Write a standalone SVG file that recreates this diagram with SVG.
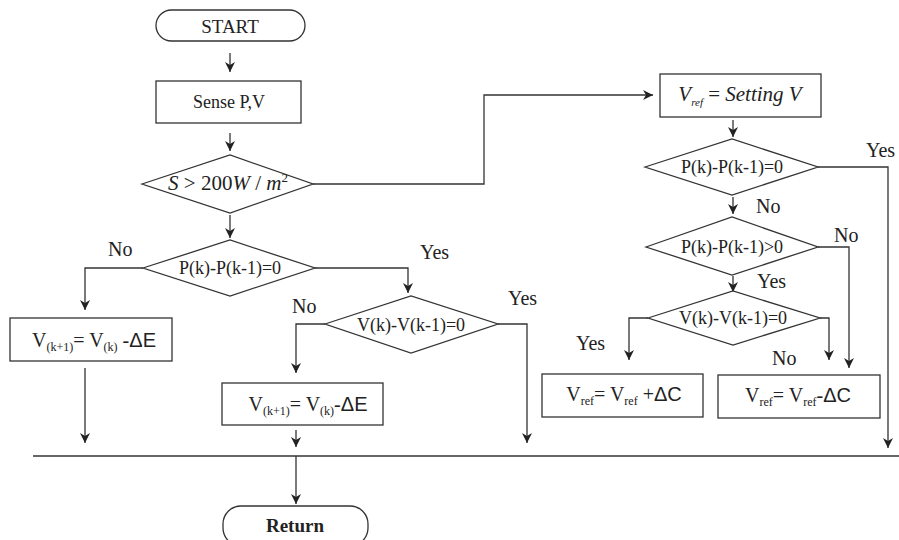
<svg xmlns="http://www.w3.org/2000/svg" width="899" height="540" viewBox="0 0 899 540">
<defs>
<marker id="arr" markerUnits="userSpaceOnUse" markerWidth="12" markerHeight="12" refX="10" refY="5" orient="auto">
<path d="M0,0 L10,5 L0,10 L3,5 Z" fill="#222"/>
</marker>
<style>
.n{fill:#fff;stroke:#333;stroke-width:1.3}
.c{fill:none;stroke:#333;stroke-width:1.3}
.a{marker-end:url(#arr)}
text{font-family:"Liberation Serif","Times New Roman",serif;fill:#222}
.t{font-size:18px;text-anchor:middle}
.b{font-size:19px;text-anchor:middle}
.l{font-size:20px}
.s{font-size:12px}
.sf{font-family:"Liberation Sans",Arial,sans-serif}
.i{font-style:italic}
</style>
</defs>
<rect width="899" height="540" fill="#fff"/>
<g id="connectors">
<line class="c a" x1="230" y1="53" x2="230" y2="72"/>
<line class="c a" x1="230" y1="133" x2="230" y2="151"/>
<line class="c a" x1="230" y1="215" x2="230" y2="238"/>
<polyline class="c a" points="313,184 484,184 484,95 653,95"/>
<polyline class="c a" points="143,268 85,268 85,310"/>
<polyline class="c a" points="315,268 408,268 408,293"/>
<line class="c a" x1="85" y1="368" x2="85" y2="443"/>
<polyline class="c a" points="325,324 296,324 296,373"/>
<polyline class="c a" points="498,324 527,324 527,443"/>
<line class="c a" x1="296" y1="430" x2="296" y2="447"/>
<line class="c a" x1="733" y1="120" x2="733" y2="137"/>
<polyline class="c a" points="818,167 888,167 888,448"/>
<line class="c a" x1="733" y1="197" x2="733" y2="214"/>
<polyline class="c a" points="818,247 849,247 849,368"/>
<line class="c a" x1="733" y1="276" x2="733" y2="292"/>
<polyline class="c a" points="648,318 629,318 629,360"/>
<polyline class="c a" points="820,318 829,318 829,360"/>
<line class="c" x1="33" y1="456" x2="899" y2="456"/>
<line class="c a" x1="296" y1="456" x2="296" y2="504"/>
</g>
<g id="start">
<rect class="n" x="156" y="10" width="149" height="31" rx="15.5"/>
<text class="b" x="230" y="33">START</text>
</g>
<g id="sense">
<rect class="n" x="156" y="81" width="145" height="42"/>
<text class="t" x="229" y="108">Sense P,V</text>
</g>
<g id="irradiance">
<polygon class="n" points="142,184 230,155 313,184 230,213"/>
<text x="228" y="190" style="font-size:21px;text-anchor:middle"><tspan class="i">S</tspan> &gt; 200<tspan class="i">W</tspan> / <tspan class="i">m</tspan><tspan dy="-8" style="font-size:13px">2</tspan></text>
</g>
<g id="dp_left">
<polygon class="n" points="143,268 230,240 315,268 230,296"/>
<text class="t" x="230" y="274">P(k)-P(k-1)=0</text>
</g>
<g id="box_left">
<rect class="n" x="10" y="318" width="162" height="43"/>
<text x="94" y="347" style="font-size:20px;text-anchor:middle">V<tspan class="s" dy="4">(k+1)</tspan><tspan dy="-4">= V</tspan><tspan class="s" dy="4">(k)</tspan><tspan dy="-4"> -</tspan><tspan class="sf">ΔE</tspan></text>
</g>
<g id="dv_mid">
<polygon class="n" points="325,324 411,296 498,324 411,353"/>
<text class="t" x="411" y="331">V(k)-V(k-1)=0</text>
</g>
<g id="box_mid">
<rect class="n" x="222" y="383" width="161" height="42"/>
<text x="308" y="411" style="font-size:20px;text-anchor:middle">V<tspan class="s" dy="4">(k+1)</tspan><tspan dy="-4">= V</tspan><tspan class="s" dy="4">(k)</tspan><tspan dy="-4">-</tspan><tspan class="sf">ΔE</tspan></text>
</g>
<g id="vref_set">
<rect class="n" x="660" y="74" width="161" height="43"/>
<text x="740" y="101" class="i" style="font-size:21px;text-anchor:middle">V<tspan dy="5" style="font-size:11px">ref</tspan><tspan dy="-5" style="font-style:normal"> = </tspan>Setting V</text>
</g>
<g id="dp_right">
<polygon class="n" points="645,167 732,139 818,167 732,195"/>
<text class="t" x="732" y="173">P(k)-P(k-1)=0</text>
</g>
<g id="dp_pos">
<polygon class="n" points="646,247 732,217 818,247 732,275"/>
<text class="t" x="732" y="253">P(k)-P(k-1)&gt;0</text>
</g>
<g id="dv_right">
<polygon class="n" points="648,318 733,291 820,318 733,345"/>
<text class="t" x="733" y="324">V(k)-V(k-1)=0</text>
</g>
<g id="box_inc">
<rect class="n" x="542" y="374" width="161" height="43"/>
<text x="624" y="401" style="font-size:20px;text-anchor:middle">V<tspan class="s" dy="4">ref</tspan><tspan dy="-4">= V</tspan><tspan class="s" dy="4">ref</tspan><tspan dy="-4"> +</tspan><tspan class="sf">ΔC</tspan></text>
</g>
<g id="box_dec">
<rect class="n" x="718" y="375" width="162" height="43"/>
<text x="798" y="402" style="font-size:20px;text-anchor:middle">V<tspan class="s" dy="4">ref</tspan><tspan dy="-4">= V</tspan><tspan class="s" dy="4">ref</tspan><tspan dy="-4">-</tspan><tspan class="sf">ΔC</tspan></text>
</g>
<g id="return">
<rect class="n" x="223" y="506" width="145" height="40" rx="18"/>
<text class="b" x="295" y="532" style="font-weight:bold">Return</text>
</g>
<g id="labels">
<text class="l" x="108" y="256">No</text>
<text class="l" x="420" y="259">Yes</text>
<text class="l" x="292" y="313">No</text>
<text class="l" x="508" y="305">Yes</text>
<text class="l" x="866" y="157">Yes</text>
<text class="l" x="756" y="213">No</text>
<text class="l" x="834" y="242">No</text>
<text class="l" x="757" y="288">Yes</text>
<text class="l" x="576" y="350">Yes</text>
<text class="l" x="772" y="365">No</text>
</g>
</svg>
